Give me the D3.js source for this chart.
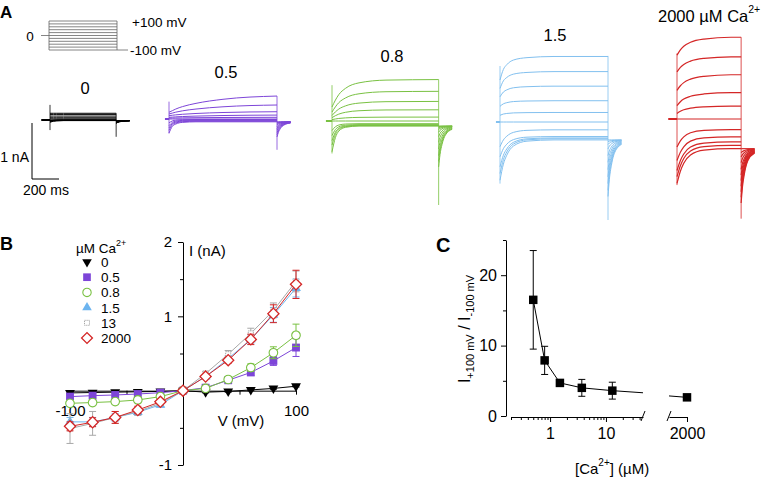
<!DOCTYPE html>
<html>
<head>
<meta charset="utf-8">
<title>Ca2+ dependence of currents</title>
<script src="https://d3js.org/d3.v7.min.js"></script>
<style>
  body { margin: 0; background: #fff; }
  svg { font-family: "Liberation Sans", Arial, sans-serif; }
</style>
</head>
<body>
<script>
// ---------- data ----------
const voltages = [-100, -80, -60, -40, -20, 0, 20, 40, 60, 80, 100];

// panel A, representative current families (nA), one value per step voltage
const familyNames = ["0", "0.5", "0.8", "1.5", "2000"];
const pulseMs = [490, 800, 790, 800, 475];
const holdMs = [65, 30, 45, 30, 65];

const steady0 = [-0.01, -0.01, -0.005, 0, 0, 0, 0.02, 0.04, 0.07, 0.1, 0.12];
const start0 = [-0.04, -0.03, -0.02, -0.015, -0.01, 0, 0.02, 0.04, 0.07, 0.1, 0.12];
const tail0 = [-0.01, -0.015, -0.02, -0.025, -0.03, -0.035, -0.04, -0.045, -0.05, -0.055, -0.06];

const steady05 = [-0.05, -0.04, -0.03, -0.02, -0.01, 0, 0.03, 0.07, 0.13, 0.25, 0.41];
const start05 = [-0.25, -0.2, -0.16, -0.12, -0.07, 0, 0.015, 0.03, 0.06, 0.09, 0.12];
const tail05 = [-0.05, -0.06, -0.07, -0.09, -0.11, -0.14, -0.17, -0.2, -0.24, -0.28, -0.32];

const steady08 = [-0.09, -0.083, -0.077, -0.065, -0.048, 0, 0.07, 0.2, 0.35, 0.53, 0.74];
const start08 = [-0.55, -0.43, -0.35, -0.26, -0.17, 0, 0.025, 0.06, 0.1, 0.16, 0.25];
const tail08 = [-0.09, -0.1, -0.12, -0.15, -0.2, -0.28, -0.38, -0.5, -0.62, -0.72, -0.82];

const steady15 = [-0.32, -0.3, -0.285, -0.26, -0.14, 0, 0.17, 0.38, 0.64, 0.9, 1.17];
const start15 = [-1.04, -0.92, -0.8, -0.62, -0.44, 0, 0.12, 0.28, 0.45, 0.6, 0.75];
const tail15 = [-0.32, -0.35, -0.4, -0.48, -0.6, -0.72, -0.85, -0.98, -1.1, -1.22, -1.33];

const steady2000 = [-0.53, -0.47, -0.41, -0.32, -0.19, 0, 0.23, 0.47, 0.79, 1.11, 1.46];
const start2000 = [-1.15, -1.03, -0.92, -0.74, -0.5, 0, 0.1, 0.24, 0.51, 0.84, 1.14];
const tail2000 = [-0.53, -0.6, -0.68, -0.78, -0.9, -1.0, -1.1, -1.2, -1.3, -1.4, -1.5];

// capacitive spikes at pulse on / off (nA, low and high)
const onsetLow = [-0.18, -0.26, -0.58, -1.1, -1.18];
const onsetHigh = [0.27, 0.31, 0.64, 1.0, 1.17];
const offLow = [-0.3, -0.55, -1.5, -1.75, -1.78];
const offHigh = [0.12, 0.41, 0.74, 1.18, 1.46];

// time courses (fraction of relaxation)
const courseMs = [0, 25, 50, 100, 200, 400, 800];
const act0 = [0, 0.5, 0.8, 1, 1, 1, 1];
const act05 = [0, 0.1, 0.2, 0.35, 0.55, 0.8, 1];
const act08 = [0, 0.25, 0.45, 0.68, 0.88, 0.98, 1];
const act15 = [0, 0.45, 0.65, 0.85, 0.95, 1, 1];
const act2000 = [0, 0.3, 0.5, 0.72, 0.9, 1, 1];
const deact0 = [0, 0.6, 0.85, 1, 1, 1, 1];
const deact05 = [0, 0.6, 0.8, 0.95, 1, 1, 1];
const deact08 = [0, 0.55, 0.8, 0.95, 1, 1, 1];
const deact15 = [0, 0.4, 0.62, 0.85, 0.97, 1, 1];
const deact2000 = [0, 0.35, 0.58, 0.82, 0.96, 1, 1];
const tailMs = [0, 10, 25, 50, 100];
const tailCourse = [0, 0.3, 0.55, 0.78, 0.92];

// panel B, mean I-V (nA) and SEM
const ivLabels = ["0", "0.5", "0.8", "1.5", "13", "2000"];
const iv0 = [-0.03, -0.025, -0.02, -0.015, -0.01, 0, -0.02, -0.01, 0.01, 0.03, 0.06];
const iv05 = [-0.08, -0.067, -0.058, -0.045, -0.027, 0, 0.04, 0.14, 0.245, 0.4, 0.58];
const iv08 = [-0.17, -0.16, -0.147, -0.125, -0.08, 0, 0.03, 0.15, 0.31, 0.51, 0.745];
const iv15 = [-0.42, -0.42, -0.36, -0.29, -0.19, 0, 0.19, 0.43, 0.69, 1.02, 1.38];
const iv13 = [-0.51, -0.44, -0.36, -0.28, -0.17, 0, 0.23, 0.49, 0.77, 1.08, 1.47];
const iv2000 = [-0.48, -0.425, -0.36, -0.26, -0.15, 0, 0.19, 0.41, 0.69, 1.035, 1.43];
const err0 = [0.01, 0.01, 0.01, 0.01, 0.01, 0, 0.01, 0.01, 0.01, 0.01, 0.01];
const err05 = [0.02, 0.02, 0.02, 0.02, 0.01, 0, 0.01, 0.02, 0.04, 0.06, 0.12];
const err08 = [0.03, 0.03, 0.03, 0.02, 0.02, 0, 0.01, 0.03, 0.05, 0.08, 0.15];
const err15 = [0.06, 0.06, 0.05, 0.04, 0.03, 0, 0.03, 0.04, 0.06, 0.1, 0.12];
const err13 = [0.2, 0.16, 0.08, 0.05, 0.03, 0, 0.03, 0.05, 0.07, 0.1, 0.14];
const err2000 = [0.06, 0.06, 0.08, 0.05, 0.03, 0, 0.02, 0.04, 0.07, 0.12, 0.19];

// panel C, rectification ratio vs [Ca2+]
const ratioConc = [0.5, 0.8, 1.5, 3.7, 13];
const ratioMean = [16.5, 7.9, 4.7, 4.0, 3.6];
const ratioErr = [7, 2, 0.3, 1.2, 1.2];
const ratioHighConc = [2000];
const ratioHighMean = [2.65];
const fitConc = [0.5, 0.8, 1.5, 3.7, 13, 46];
const fitRatio = [16.5, 7.9, 4.7, 4.0, 3.6, 3.3];
const fitHighConc = [1400, 2000];
const fitHighRatio = [2.85, 2.65];

// ---------- drawing ----------
const svg = d3.select("body").append("svg").attr("width", 766).attr("height", 478);

function letter(txt, x, y, size) {
  svg.append("text").attr("x", x).attr("y", y).attr("font-size", size)
    .attr("font-weight", "bold").text(txt);
}
letter("A", 0, 18, 17);
letter("B", 0, 250, 18);
letter("C", 436, 252, 20);

// ----- panel A: voltage protocol -----
const protoY = d3.scaleLinear().domain([-100, 100]).range([50, 21]);
const proto = svg.append("g").attr("stroke", "#666").attr("stroke-width", 0.8);
proto.selectAll("line.step").data(voltages).join("line").attr("class", "step")
  .attr("x1", 49).attr("x2", 117)
  .attr("y1", d => protoY(d)).attr("y2", d => protoY(d));
proto.append("line").attr("x1", 49).attr("x2", 49).attr("y1", protoY(100)).attr("y2", protoY(-100));
proto.append("line").attr("x1", 117).attr("x2", 117).attr("y1", protoY(100)).attr("y2", protoY(-100));
proto.append("line").attr("x1", 41).attr("x2", 49).attr("y1", protoY(0)).attr("y2", protoY(0));
proto.append("line").attr("x1", 117).attr("x2", 128).attr("y1", protoY(-100)).attr("y2", protoY(-100));
svg.append("text").attr("x", 30).attr("y", protoY(0) + 5).attr("font-size", 13.5)
  .attr("text-anchor", "middle").text("0");
svg.append("text").attr("x", 132).attr("y", protoY(100) + 6).attr("font-size", 13.5).text("+100 mV");
svg.append("text").attr("x", 130).attr("y", protoY(-100) + 5).attr("font-size", 13.5).text("-100 mV");

// ----- panel A: current families -----
const famX = [50, 169, 332, 500, 677];
const famBase = [120, 119, 121, 122, 119];
const famColor = ["#000000", "#7d45d8", "#79c142", "#82c0ef", "#d42626"];
const famWidth = [1, 1, 1, 1, 1.2];
const steadyAll = [steady0, steady05, steady08, steady15, steady2000];
const startAll = [start0, start05, start08, start15, start2000];
const tailAll = [tail0, tail05, tail08, tail15, tail2000];
const actAll = [act0, act05, act08, act15, act2000];
const deactAll = [deact0, deact05, deact08, deact15, deact2000];

const tailFrac = d3.scaleLinear().domain(tailMs).range(tailCourse).clamp(true);

familyNames.forEach((name, i) => {
  const x = d3.scaleLinear().domain([0, 200]).range([famX[i], famX[i] + 27]);
  const y = d3.scaleLinear().domain([0, 1]).range([famBase[i], famBase[i] - 56]);
  const dur = pulseMs[i];
  const line = d3.line().x(d => x(d[0])).y(d => y(d[1])).curve(d3.curveMonotoneX);
  const g = svg.append("g").attr("fill", "none").attr("stroke", famColor[i])
    .attr("stroke-width", famWidth[i]);

  // holding level before the pulse
  g.append("line").attr("x1", x(-holdMs[i])).attr("x2", x(0))
    .attr("y1", y(0)).attr("y2", y(0)).attr("stroke-width", 2);

  // capacitive transients
  g.append("line").attr("x1", x(0)).attr("x2", x(0))
    .attr("y1", y(onsetHigh[i])).attr("y2", y(onsetLow[i])).attr("stroke-width", 0.8);
  g.append("line").attr("x1", x(dur)).attr("x2", x(dur))
    .attr("y1", y(offHigh[i])).attr("y2", y(offLow[i])).attr("stroke-width", 0.8);

  const ss = steadyAll[i], st = startAll[i], tl = tailAll[i];
  voltages.forEach((v, j) => {
    const course = v > 0 ? actAll[i] : deactAll[i];
    const frac = d3.scaleLinear().domain(courseMs).range(course).clamp(true);
    const ts = courseMs.filter(t => t < dur).concat([dur]);
    const pulsePts = ts.map(t => [t, st[j] + (ss[j] - st[j]) * frac(t)]);
    g.append("path").attr("d", line(pulsePts));
    const tailPts = tailMs.map(t => [dur + t, tl[j] + (ss[0] - tl[j]) * tailFrac(t)]);
    g.append("path").attr("d", line(tailPts));
  });

  // scale bar under the first family
  if (i === 0) {
    const sb = svg.append("g").attr("stroke", "#000").attr("stroke-width", 1);
    sb.append("line").attr("x1", 32).attr("x2", 32).attr("y1", 179 - (y(0) - y(1))).attr("y2", 179);
    sb.append("line").attr("x1", 32).attr("x2", 32 + (x(200) - x(0))).attr("y1", 179).attr("y2", 179);
    svg.append("text").attr("x", 29).attr("y", 162).attr("font-size", 14)
      .attr("text-anchor", "end").text("1 nA");
    svg.append("text").attr("x", 23).attr("y", 195).attr("font-size", 14).text("200 ms");
  }
});

const famLabelX = [85, 226, 392, 555];
const famLabelY = [94, 78, 62, 41];
familyNames.slice(0, 4).forEach((n, i) => {
  svg.append("text").attr("x", famLabelX[i]).attr("y", famLabelY[i]).attr("font-size", 16.5)
    .attr("text-anchor", "middle").text(n);
});
const lab2000 = svg.append("text").attr("x", 658).attr("y", 22).attr("font-size", 16.5);
lab2000.append("tspan").text(familyNames[4] + " µM Ca");
lab2000.append("tspan").attr("font-size", 10.5).attr("dy", -9).text("2+");

// ----- panel B: I-V -----
const xB = d3.scaleLinear().domain([-100, 100]).range([70, 296]);
const yB = d3.scaleLinear().domain([-1, 2]).range([465, 242]);

const gB = svg.append("g");
gB.append("g").attr("transform", `translate(${xB(0)},0)`)
  .call(d3.axisLeft(yB).tickValues([-1, 1, 2]).tickSize(5).tickSizeOuter(0).tickPadding(6)
    .tickFormat(d => d));
gB.append("g").attr("transform", `translate(${xB(0)},0)`)
  .call(d3.axisLeft(yB).tickValues([-0.5, 0.5, 1.5]).tickSize(3).tickSizeOuter(0).tickFormat(""))
  .select(".domain").remove();
const xAxB = gB.append("g").attr("transform", `translate(0,${yB(0)})`)
  .call(d3.axisBottom(xB).tickValues([-100, -50, 50, 100]).tickSize(4).tickSizeOuter(0)
    .tickFormat(d => Math.abs(d) === 100 ? d : ""));
xAxB.selectAll("text").attr("y", 20).attr("dy", "0.35em");
gB.selectAll("text").attr("font-size", 15).attr("font-family", "Liberation Sans, Arial, sans-serif")
  .attr("fill", "#000");
gB.selectAll("path.domain, line").attr("stroke", "#000");

svg.append("text").attr("x", 189).attr("y", 256).attr("font-size", 15).text("I (nA)");
svg.append("text").attr("x", 241).attr("y", 426).attr("font-size", 15)
  .attr("text-anchor", "middle").text("V (mV)");

const ivMeans = [iv0, iv05, iv08, iv15, iv13, iv2000];
const ivErrs = [err0, err05, err08, err15, err13, err2000];
const ivColor = ["#000000", "#7d45d8", "#79c142", "#6cb4ef", "#a8a8a8", "#d42626"];
const ivMarker = ["tridown", "square", "circle", "triangle", "smallsq", "diamond"];

function drawMarker(sel, type, color, scale) {
  const s = scale || 1;
  let p;
  if (type === "tridown") {
    p = sel.append("path").attr("d", d3.symbol(d3.symbolTriangle, 42 * s)())
      .attr("fill", color).attr("transform", "rotate(180)");
  } else if (type === "square") {
    p = sel.append("path").attr("d", d3.symbol(d3.symbolSquare, 62 * s)()).attr("fill", color);
  } else if (type === "circle") {
    p = sel.append("path").attr("d", d3.symbol(d3.symbolCircle, 58 * s)())
      .attr("fill", "#fff").attr("stroke", color).attr("stroke-width", 1.1);
  } else if (type === "triangle") {
    p = sel.append("path").attr("d", d3.symbol(d3.symbolTriangle, 42 * s)()).attr("fill", color);
  } else if (type === "smallsq") {
    p = sel.append("path").attr("d", d3.symbol(d3.symbolSquare, 26 * s)())
      .attr("fill", "#fff").attr("stroke", color).attr("stroke-width", 1)
      .attr("stroke-dasharray", "1.2,0.8");
  } else {
    p = sel.append("path").attr("d", d3.symbol(d3.symbolSquare, 62 * s)())
      .attr("fill", "#fff").attr("stroke", color).attr("stroke-width", 1.3)
      .attr("transform", "rotate(45)");
  }
  return p;
}

const lineB = d3.line().x((d, i) => xB(voltages[i])).y(d => yB(d));
ivMeans.forEach((m, k) => {
  const g = svg.append("g");
  g.append("path").attr("d", lineB(m)).attr("fill", "none")
    .attr("stroke", ivColor[k]).attr("stroke-width", 1);
  m.forEach((v, i) => {
    const e = ivErrs[k][i];
    if (e <= 0) return;
    const cx = xB(voltages[i]);
    const eg = g.append("g").attr("stroke", ivColor[k]).attr("stroke-width", 1);
    eg.append("line").attr("x1", cx).attr("x2", cx).attr("y1", yB(v - e)).attr("y2", yB(v + e));
    eg.append("line").attr("x1", cx - 3.5).attr("x2", cx + 3.5).attr("y1", yB(v - e)).attr("y2", yB(v - e));
    eg.append("line").attr("x1", cx - 3.5).attr("x2", cx + 3.5).attr("y1", yB(v + e)).attr("y2", yB(v + e));
  });
  m.forEach((v, i) => {
    const mg = g.append("g").attr("transform", `translate(${xB(voltages[i])},${yB(v)})`);
    drawMarker(mg, ivMarker[k], ivColor[k]);
  });
});

// legend
const leg = svg.append("text").attr("x", 76).attr("y", 253).attr("font-size", 13.5);
leg.append("tspan").text("µM Ca");
leg.append("tspan").attr("font-size", 9).attr("dy", -7).text("2+");
ivLabels.forEach((lab, k) => {
  const cy = 262 + k * 15.2;
  const mg = svg.append("g").attr("transform", `translate(87,${cy})`);
  drawMarker(mg, ivMarker[k], ivColor[k], 0.95);
  svg.append("text").attr("x", 101).attr("y", cy + 5).attr("font-size", 13.5).text(lab);
});

// ----- panel C: ratio vs [Ca2+] -----
const xC = d3.scaleLog().domain([0.2, 46]).range([511, 643]);
const xC2 = d3.scaleLog().domain([1400, 2000]).range([669, 687]);
const yC = d3.scaleLinear().domain([0, 25]).range([416, 240]);

const gC = svg.append("g");
gC.append("g").attr("transform", "translate(506,0)")
  .call(d3.axisLeft(yC).tickValues([0, 10, 20]).tickSize(5).tickSizeOuter(0).tickPadding(4));
gC.append("g").attr("transform", "translate(506,0)")
  .call(d3.axisLeft(yC).tickValues([5, 15, 25]).tickSize(3).tickSizeOuter(0).tickFormat(""))
  .select(".domain").remove();
const minorC = [0.2, 0.3, 0.4, 0.5, 0.6, 0.7, 0.8, 0.9, 2, 3, 4, 5, 6, 7, 8, 9, 20, 30, 40];
gC.append("g").attr("transform", "translate(0,417)")
  .call(d3.axisBottom(xC).tickValues(minorC).tickSize(3).tickSizeOuter(0).tickFormat(""));
gC.append("g").attr("transform", "translate(0,417)")
  .call(d3.axisBottom(xC).tickValues([1, 10]).tickSize(5).tickSizeOuter(0).tickPadding(6)
    .tickFormat(d => d))
  .select(".domain").remove();
gC.append("g").attr("transform", "translate(0,417)")
  .call(d3.axisBottom(xC2).tickValues([2000]).tickSize(5).tickSizeOuter(0).tickPadding(6)
    .tickFormat(d => d));
gC.selectAll("text").attr("font-size", 16).attr("font-family", "Liberation Sans, Arial, sans-serif")
  .attr("fill", "#000");
gC.selectAll("path.domain, line").attr("stroke", "#000");
// axis break marks
[xC.range()[1], xC2.range()[0]].forEach(bx => {
  svg.append("line").attr("x1", bx - 2).attr("x2", bx + 2).attr("y1", 421).attr("y2", 411)
    .attr("stroke", "#000").attr("stroke-width", 1);
});

const lineC = d3.line().x((d, i) => xC(fitConc[i])).y(d => yC(d));
svg.append("path").attr("d", lineC(fitRatio)).attr("fill", "none").attr("stroke", "#000");
const lineC2 = d3.line().x((d, i) => xC2(fitHighConc[i])).y(d => yC(d));
svg.append("path").attr("d", lineC2(fitHighRatio)).attr("fill", "none").attr("stroke", "#000");

ratioConc.forEach((c, i) => {
  const cx = xC(c), v = ratioMean[i], e = ratioErr[i];
  const eg = svg.append("g").attr("stroke", "#000").attr("stroke-width", 1);
  eg.append("line").attr("x1", cx).attr("x2", cx).attr("y1", yC(v - e)).attr("y2", yC(v + e));
  eg.append("line").attr("x1", cx - 3.5).attr("x2", cx + 3.5).attr("y1", yC(v - e)).attr("y2", yC(v - e));
  eg.append("line").attr("x1", cx - 3.5).attr("x2", cx + 3.5).attr("y1", yC(v + e)).attr("y2", yC(v + e));
  svg.append("path").attr("d", d3.symbol(d3.symbolSquare, 72)())
    .attr("transform", `translate(${cx},${yC(v)})`).attr("fill", "#000");
});
ratioHighConc.forEach((c, i) => {
  svg.append("path").attr("d", d3.symbol(d3.symbolSquare, 72)())
    .attr("transform", `translate(${xC2(c)},${yC(ratioHighMean[i])})`).attr("fill", "#000");
});

const ylC = svg.append("text").attr("transform", "translate(470,329) rotate(-90)")
  .attr("text-anchor", "middle").attr("font-size", 16);
ylC.append("tspan").text("I");
ylC.append("tspan").attr("font-size", 11).attr("dy", 4).text("+100 mV");
ylC.append("tspan").attr("dy", -4).text(" / I");
ylC.append("tspan").attr("font-size", 11).attr("dy", 4).text("-100 mV");

const xlC = svg.append("text").attr("x", 575).attr("y", 474).attr("font-size", 15);
xlC.append("tspan").text("[Ca");
xlC.append("tspan").attr("font-size", 10).attr("dy", -8).text("2+");
xlC.append("tspan").attr("dy", 8).text("] (µM)");
</script>
</body>
</html>
